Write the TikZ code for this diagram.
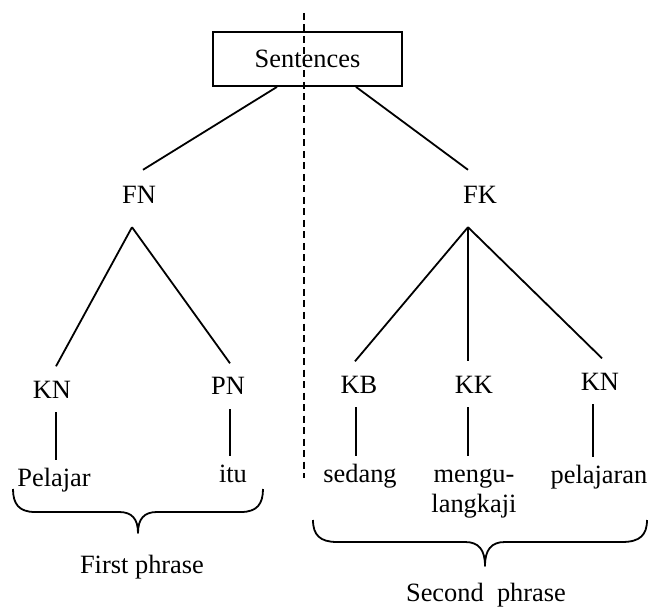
\documentclass[tikz,border=0pt]{standalone}
\usepackage{fontspec}
\setmainfont{Liberation Serif}
\usetikzlibrary{positioning}
\tikzstyle{sentbox} = [rectangle, draw=black, line width=1.8pt, minimum width=189pt, minimum height=54pt, inner sep=0pt]
\tikzstyle{phrase} = [inner xsep=0pt, inner ysep=16.5pt, text height=17.5pt, text depth=6.5pt, anchor=base]
\tikzstyle{cat} = [inner xsep=0pt, inner ysep=14pt, text height=17.5pt, text depth=0pt, anchor=base]
\tikzstyle{word} = [inner xsep=0pt, inner ysep=8pt, text height=17.5pt, text depth=6pt, anchor=base]
\tikzstyle{branch} = [line width=1.8pt]
\tikzstyle{curly} = [line width=1.8pt, line join=round]

\begin{document}
\begin{tikzpicture}[x=1pt, y=-1pt, every node/.style={font=\fontsize{26.4pt}{30.4pt}\selectfont}]
    \useasboundingbox (0,0) rectangle (649,607);

    \node (sent) [sentbox] at (307.5,59) {Sentences};
    \node (fn) [phrase] at (139,204) {FN};
    \node (fk) [phrase] at (480,204) {FK};

    \node (kna) [cat] at (52,398) {KN};
    \node (pn) [cat] at (228,395) {PN};
    \node (kb) [cat] at (359,393) {KB};
    \node (kk) [cat] at (474,393) {KK};
    \node (knb) [cat] at (600,390) {KN};

    \node (pelajar) [word] at (54,486) {Pelajar};
    \node (itu) [word] at (233,482) {itu};
    \node (sedang) [word] at (360,482) {sedang};
    \node (mengu) [inner xsep=0pt, inner ysep=8pt, align=center, anchor=north] at (474,456) {\vphantom{l}mengu-\\langkaji};
    \node (pelajaran) [word] at (599,483) {pelajaran};

    \node (first) [anchor=base, inner sep=0pt] at (142,573) {First phrase};
    \node (second) [anchor=base, inner sep=0pt] at (486,601) {Second~~phrase};

    % dividing line
    \coordinate (cuttop) at (304,13);
    \coordinate (cutbot) at (304,478);
    \draw [line width=1.6pt, dash pattern=on 7pt off 4.5pt] (cuttop) -- (cutbot);

    \draw [branch] ([xshift=-30.5pt]sent.south) -- ([xshift=4pt]fn.north);
    \draw [branch] ([xshift=48.5pt]sent.south) -- ([xshift=-12pt]fk.north);

    \draw [branch] ([xshift=-7pt]fn.south) -- ([xshift=4pt]kna.north);
    \draw [branch] ([xshift=-7pt]fn.south) -- ([xshift=2pt]pn.north);
    \draw [branch] ([xshift=-12pt]fk.south) -- ([xshift=-4pt]kb.north);
    \draw [branch] ([xshift=-12pt]fk.south) -- ([xshift=-6pt]kk.north);
    \draw [branch] ([xshift=-12pt]fk.south) -- ([xshift=2pt]knb.north);

    \draw [branch] ([xshift=4pt]kna.south) -- ([xshift=4pt]kna.south |- pelajar.north);
    \draw [branch] ([xshift=2pt]pn.south) -- ([xshift=2pt]pn.south |- itu.north);
    \draw [branch] ([xshift=-3pt]kb.south) -- ([xshift=-3pt]kb.south |- sedang.north);
    \draw [branch] ([xshift=-6pt]kk.south) -- ([xshift=-6pt]kk.south |- mengu.north);
    \draw [branch] ([xshift=-7pt]knb.south) -- ([xshift=-7pt]knb.south |- pelajaran.north);

    % braces
    \coordinate (b1l) at (13,489);
    \coordinate (b1r) at (263,489);
    \coordinate (b2l) at (313,520);
    \coordinate (b2r) at (647,520);
    \draw [curly] (b1l) .. controls (13,504) and (19,512) .. (35,512) -- (119,512)
        .. controls (132,512) and (138,519) .. (138,533)
        .. controls (138,519) and (144,512) .. (157,512) -- (241,512)
        .. controls (257,512) and (263,504) .. (b1r);
    \draw [curly] (b2l) .. controls (313,535) and (320,542) .. (337,542) -- (465,542)
        .. controls (479,542) and (485,550) .. (485,566)
        .. controls (485,550) and (491,542) .. (505,542) -- (622,542)
        .. controls (640,542) and (647,535) .. (b2r);
\end{tikzpicture}
\end{document}
